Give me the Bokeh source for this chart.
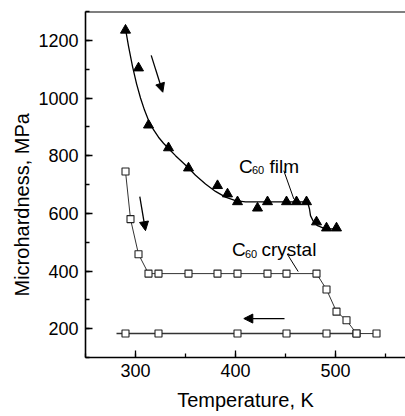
from bokeh.plotting import figure
from bokeh.models import Range1d, SingleIntervalTicker, Span, Arrow, NormalHead, ColumnDataSource, Title
from bokeh.core.properties import value
from bokeh.embed import file_html
from bokeh.resources import INLINE

# ---- data ----
film_T = [290, 303, 313, 333, 353, 382, 392, 402, 422, 432, 451, 461, 471, 481, 491, 501]
film_H = [1235, 1104, 906, 827, 757, 696, 667, 640, 618, 640, 640, 640, 640, 570, 549, 549]

fit_T = [290, 293, 297, 301, 305, 309, 313, 318, 323, 328, 333, 340, 347, 353, 360, 370, 380, 390, 400, 410,
         472, 474, 475, 478, 482, 488, 495, 500]
fit_H = [1240, 1180, 1110, 1050, 1000, 958, 923, 890, 864, 843, 825, 800, 777, 757, 732, 702, 676, 656, 644, 640,
         640, 615, 592, 571, 557, 549, 546, 546]

cr_up_T = [290, 295, 303, 313, 323, 353, 382, 402, 432, 451, 481, 491, 501, 511, 521, 541]
cr_up_H = [745, 580, 458, 391, 391, 391, 391, 391, 391, 391, 391, 336, 259, 229, 183, 183]

cr_down_T = [290, 323, 402, 451, 491, 521]
cr_down_H = [183, 183, 183, 183, 183, 183]
cr_down_line_T = [281, 521]
cr_down_line_H = [183, 183]

arrow_x0 = [315.7, 304.3, 449.0]
arrow_y0 = [1148, 658, 235]
arrow_x1 = [327.3, 310.0, 408.3]
arrow_y1 = [1020, 540, 235]

leader_x0 = [448.3, 451.7]
leader_y0 = [748, 459]
leader_x1 = [458.3, 462.7]
leader_y1 = [650, 398]

main_text = ["C", "film", "C", "crystal"]
main_x = [403.5, 434.0, 396.5, 426.0]
main_y = [762, 762, 474, 474]
sub_text = ["60", "60"]
sub_x = [416.5, 409.5]
sub_y = [749, 460]

FONT = "Liberation Sans"

p = figure(width=405, height=416, output_backend="svg", toolbar_location=None,
           x_range=Range1d(250, 570), y_range=Range1d(100, 1300),
           min_border_left=85, min_border_right=0, min_border_top=11, min_border_bottom=59)
p.outline_line_color = None
p.grid.visible = False
p.background_fill_color = "white"
p.border_fill_color = "white"

for ax in (p.xaxis[0], p.yaxis[0]):
    ax.axis_line_width = 1.6
    ax.axis_line_color = "black"
    ax.major_tick_in = 7
    ax.major_tick_out = 0
    ax.minor_tick_in = 4
    ax.minor_tick_out = 0
    ax.major_tick_line_width = 1.3
    ax.minor_tick_line_width = 1.3
    ax.major_tick_line_color = "black"
    ax.minor_tick_line_color = "black"
    ax.major_label_text_font = FONT
    ax.major_label_text_font_size = "18px"
    ax.major_label_text_color = "black"

p.xaxis.major_label_standoff = 6
p.yaxis.major_label_standoff = 7
p.xaxis.ticker = SingleIntervalTicker(interval=100, num_minor_ticks=2)
p.yaxis.ticker = SingleIntervalTicker(interval=200, num_minor_ticks=2)
p.xaxis.axis_label = "Temperature, K"
p.xaxis.axis_label_text_font = FONT
p.xaxis.axis_label_text_font_size = "20px"
p.xaxis.axis_label_text_font_style = "normal"
p.xaxis.axis_label_text_color = "black"
p.xaxis.axis_label_standoff = 9

p.add_layout(Title(text="Microhardness, MPa", align="left", offset=61, standoff=5,
                   text_font=FONT, text_font_size="20px", text_font_style="normal",
                   text_color="black"), "left")

p.add_layout(Span(location=1300, dimension="width", line_color="black", line_width=1.8))

# film
p.line(fit_T, fit_H, line_color="black", line_width=1.3)
p.scatter(film_T, film_H, marker="triangle", size=10, fill_color="black", line_color="black")

# crystal
p.line(cr_down_line_T, cr_down_line_H, line_color="#333333", line_width=1.6)
p.line(cr_up_T, cr_up_H, line_color="#333333", line_width=1)
p.scatter(cr_up_T, cr_up_H, marker="square", size=7, fill_color="white", line_color="#222222", line_width=1.1)
p.scatter(cr_down_T, cr_down_H, marker="square", size=7, fill_color="white", line_color="#222222", line_width=1.1)

# leaders
p.segment(leader_x0, leader_y0, leader_x1, leader_y1, line_color="black", line_width=1)

# arrows
for xs, ys, xe, ye in zip(arrow_x0, arrow_y0, arrow_x1, arrow_y1):
    p.add_layout(Arrow(end=NormalHead(size=9, fill_color="black", line_color="black", line_width=1),
                       x_start=xs, y_start=ys, x_end=xe, y_end=ye, line_width=1.3, line_color="black"))

# text labels
src_main = ColumnDataSource(dict(x=main_x, y=main_y, t=main_text))
p.text(x="x", y="y", text="t", source=src_main, text_font=value(FONT), text_font_size="19px",
       text_baseline="alphabetic", text_align="left", text_color="black")
src_sub = ColumnDataSource(dict(x=sub_x, y=sub_y, t=sub_text))
p.text(x="x", y="y", text="t", source=src_sub, text_font=value(FONT), text_font_size="11px",
       text_baseline="alphabetic", text_align="left", text_color="black")

open("out.html", "w").write(file_html(p, INLINE))
